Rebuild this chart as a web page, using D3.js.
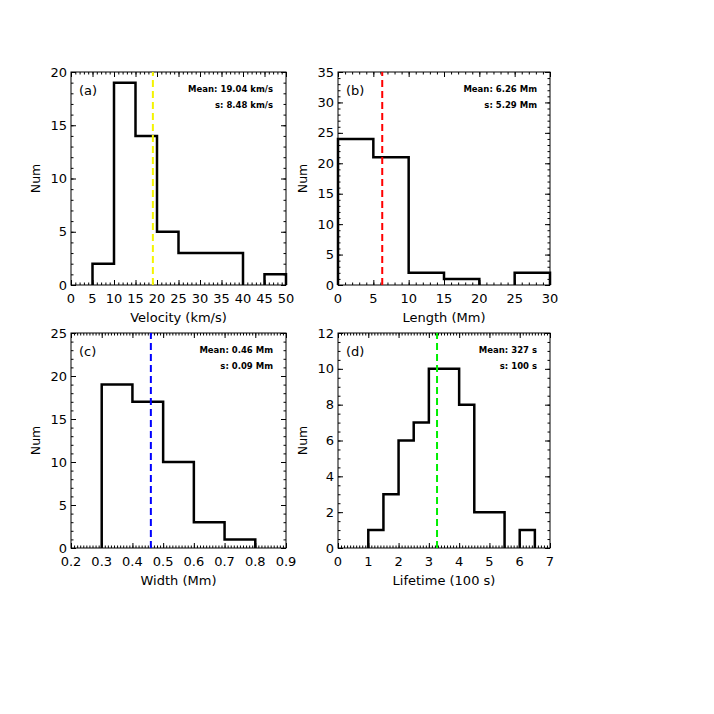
<!DOCTYPE html>
<html>
<head>
<meta charset="utf-8">
<script src="https://cdn.jsdelivr.net/npm/d3@7"></script>
<style>
  html, body { margin: 0; padding: 0; background: #fff; }
  svg { display: block; }
  text { font-family: "DejaVu Sans", sans-serif; fill: #000; }
</style>
</head>
<body>
<script>
// ---- Data ----
const velocityEdges = [0, 5, 10, 15, 20, 25, 30, 35, 40, 45];
const velocityCounts = [0, 2, 19, 14, 5, 3, 3, 3, 0, 1];
const velocityBinWidth = 5;

const lengthEdges = [0, 5, 10, 15, 20, 25];
const lengthCounts = [24, 21, 2, 1, 0, 2];
const lengthBinWidth = 5;

const widthEdges = [0.3, 0.4, 0.5, 0.6, 0.7];
const widthCounts = [19, 17, 10, 3, 1];
const widthBinWidth = 0.1;

const lifetimeEdges = [1, 1.5, 2, 2.5, 3, 3.5, 4, 4.5, 5, 5.5, 6];
const lifetimeCounts = [1, 3, 6, 7, 10, 10, 8, 2, 2, 0, 1];
const lifetimeBinWidth = 0.5;

const panelLabels = ["(a)", "(b)", "(c)", "(d)"];
const xTitles = ["Velocity (km/s)", "Length (Mm)", "Width (Mm)", "Lifetime (100 s)"];
const yTitle = "Num";
const meanValues = [19.04, 6.26, 0.46, 3.27];
const meanTexts = ["Mean: 19.04 km/s", "Mean: 6.26 Mm", "Mean: 0.46 Mm", "Mean: 327 s"];
const sigmaTexts = ["s: 8.48 km/s", "s: 5.29 Mm", "s: 0.09 Mm", "s: 100 s"];
const meanColors = ["#f4f400", "#ff0000", "#0000ff", "#00ee00"];

const xDomains = [[0, 50], [0, 30], [0.2, 0.9], [0, 7]];
const yDomains = [[0, 20], [0, 35], [0, 25], [0, 12]];
const xTickValues = [
  [0, 5, 10, 15, 20, 25, 30, 35, 40, 45, 50],
  [0, 5, 10, 15, 20, 25, 30],
  [0.2, 0.3, 0.4, 0.5, 0.6, 0.7, 0.8, 0.9],
  [0, 1, 2, 3, 4, 5, 6, 7]
];
const xTickLabels = [
  ["0", "5", "10", "15", "20", "25", "30", "35", "40", "45", "50"],
  ["0", "5", "10", "15", "20", "25", "30"],
  ["0.2", "0.3", "0.4", "0.5", "0.6", "0.7", "0.8", "0.9"],
  ["0", "1", "2", "3", "4", "5", "6", "7"]
];
const yTickValues = [
  [0, 5, 10, 15, 20],
  [0, 5, 10, 15, 20, 25, 30, 35],
  [0, 5, 10, 15, 20, 25],
  [0, 2, 4, 6, 8, 10, 12]
];
const xMinorSteps = [1, 1, 0.01, 0.1];
const yMinorSteps = [1, 1, 1, 0.5];

const allEdges = [velocityEdges, lengthEdges, widthEdges, lifetimeEdges];
const allCounts = [velocityCounts, lengthCounts, widthCounts, lifetimeCounts];
const allBinWidths = [velocityBinWidth, lengthBinWidth, widthBinWidth, lifetimeBinWidth];

// ---- Layout ----
const W = 714, H = 714;
const panels = [
  { x0: 71, x1: 286, y0: 72, y1: 285 },
  { x0: 338, x1: 550, y0: 72, y1: 285 },
  { x0: 71, x1: 286, y0: 333, y1: 548 },
  { x0: 338, x1: 550, y0: 333, y1: 548 }
];

const svg = d3.select("body").append("svg").attr("width", W).attr("height", H);

function minorTicks(domain, step) {
  const n = Math.round((domain[1] - domain[0]) / step);
  const out = [];
  for (let i = 0; i <= n; i++) out.push(domain[0] + i * step);
  return out;
}

panels.forEach((p, i) => {
  const x = d3.scaleLinear().domain(xDomains[i]).range([p.x0, p.x1]);
  const y = d3.scaleLinear().domain(yDomains[i]).range([p.y1, p.y0]);
  const g = svg.append("g");
  const majLen = 5, minLen = 2.5;

  const xMaj = xTickValues[i];
  const xMin = minorTicks(xDomains[i], xMinorSteps[i]);
  const yMaj = yTickValues[i];
  const yMin = minorTicks(yDomains[i], yMinorSteps[i]);

  function styleAxis(sel) {
    sel.select(".domain").remove();
    sel.selectAll("line").attr("stroke", "#000").attr("stroke-width", 1);
    sel.selectAll("text").remove();
  }
  // bottom
  g.append("g").attr("transform", `translate(0,${p.y1})`)
    .call(d3.axisTop(x).tickValues(xMin).tickSize(minLen)).call(styleAxis);
  g.append("g").attr("transform", `translate(0,${p.y1})`)
    .call(d3.axisTop(x).tickValues(xMaj).tickSize(majLen)).call(styleAxis);
  // top
  g.append("g").attr("transform", `translate(0,${p.y0})`)
    .call(d3.axisBottom(x).tickValues(xMin).tickSize(minLen)).call(styleAxis);
  g.append("g").attr("transform", `translate(0,${p.y0})`)
    .call(d3.axisBottom(x).tickValues(xMaj).tickSize(majLen)).call(styleAxis);
  // left
  g.append("g").attr("transform", `translate(${p.x0},0)`)
    .call(d3.axisRight(y).tickValues(yMin).tickSize(minLen)).call(styleAxis);
  g.append("g").attr("transform", `translate(${p.x0},0)`)
    .call(d3.axisRight(y).tickValues(yMaj).tickSize(majLen)).call(styleAxis);
  // right
  g.append("g").attr("transform", `translate(${p.x1},0)`)
    .call(d3.axisLeft(y).tickValues(yMin).tickSize(minLen)).call(styleAxis);
  g.append("g").attr("transform", `translate(${p.x1},0)`)
    .call(d3.axisLeft(y).tickValues(yMaj).tickSize(majLen)).call(styleAxis);

  // frame
  g.append("rect").attr("x", p.x0).attr("y", p.y0)
    .attr("width", p.x1 - p.x0).attr("height", p.y1 - p.y0)
    .attr("fill", "none").attr("stroke", "#000").attr("stroke-width", 1);

  // tick labels
  g.append("g").selectAll("text").data(xMaj).join("text")
    .attr("x", d => x(d)).attr("y", p.y1 + 18)
    .attr("text-anchor", "middle").attr("font-size", 13)
    .text((d, k) => xTickLabels[i][k]);
  g.append("g").selectAll("text").data(yMaj).join("text")
    .attr("x", p.x0 - 4).attr("y", d => y(d) + 4.5)
    .attr("text-anchor", "end").attr("font-size", 13)
    .text(d => String(d));

  // titles
  g.append("text").attr("x", (p.x0 + p.x1) / 2).attr("y", p.y1 + 37)
    .attr("text-anchor", "middle").attr("font-size", 13).text(xTitles[i]);
  g.append("text")
    .attr("transform", `translate(${p.x0 - 31},${(p.y0 + p.y1) / 2}) rotate(-90)`)
    .attr("text-anchor", "middle").attr("font-size", 12.5).text(yTitle);

  // histogram outline: one path per run of non-empty bins
  const edges = allEdges[i], counts = allCounts[i], bw = allBinWidths[i];
  const runs = [];
  let cur = null;
  counts.forEach((c, k) => {
    if (c > 0) {
      if (!cur) { cur = [[edges[k], 0]]; runs.push(cur); }
      cur.push([edges[k], c]);
      cur.push([edges[k] + bw, c]);
    } else if (cur) {
      cur.push([edges[k], 0]);
      cur = null;
    }
  });
  if (cur) cur.push([edges[edges.length - 1] + bw, 0]);
  const line = d3.line().x(d => x(d[0])).y(d => y(d[1]));
  g.append("g").selectAll("path").data(runs).join("path")
    .attr("d", d => line(d))
    .attr("fill", "none").attr("stroke", "#000").attr("stroke-width", 2.5)
    .attr("stroke-linejoin", "miter");

  // mean line
  g.append("line")
    .attr("x1", x(meanValues[i])).attr("x2", x(meanValues[i]))
    .attr("y1", p.y1).attr("y2", p.y0)
    .attr("stroke", meanColors[i]).attr("stroke-width", 2)
    .attr("stroke-dasharray", "7,4");

  // panel label
  g.append("text").attr("x", p.x0 + 8).attr("y", p.y0 + 23)
    .attr("font-size", 13).text(panelLabels[i]);
  // stats
  g.append("text").attr("x", p.x1 - 13).attr("y", p.y0 + 20)
    .attr("text-anchor", "end").attr("font-size", 8.5).attr("font-weight", "bold")
    .text(meanTexts[i]);
  g.append("text").attr("x", p.x1 - 13).attr("y", p.y0 + 36)
    .attr("text-anchor", "end").attr("font-size", 8.5).attr("font-weight", "bold")
    .text(sigmaTexts[i]);
});
</script>
</body>
</html>
